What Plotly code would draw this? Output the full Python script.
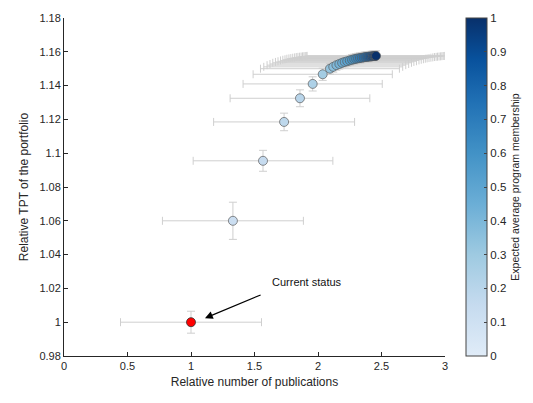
import plotly.graph_objects as go

# Current portfolio (reference point)
current_pubs = [1.0]
current_tpt = [1.0]
current_pubs_err = [0.555]
current_tpt_err = [0.0065]

# Alternative portfolios, ordered by expected average program membership
rel_pubs = [1.33, 1.567, 1.733, 1.858, 1.958, 2.037,
            2.094, 2.12, 2.145, 2.168, 2.19, 2.21, 2.23, 2.25, 2.268, 2.285,
            2.30, 2.315, 2.33, 2.345, 2.36, 2.373, 2.386, 2.398, 2.41, 2.421,
            2.432, 2.442, 2.45, 2.457]
rel_tpt = [1.060, 1.0955, 1.1185, 1.1325, 1.141, 1.1467,
           1.1500, 1.1511, 1.1521, 1.1528, 1.1535, 1.1540, 1.1544, 1.1549, 1.1553, 1.1556,
           1.1559, 1.1561, 1.1563, 1.1565, 1.1567, 1.1569, 1.1570, 1.1571, 1.1572, 1.1573,
           1.1574, 1.1575, 1.1575, 1.1576]
pubs_err = [0.555, 0.55, 0.555, 0.55, 0.548, 0.548,
            0.547, 0.547, 0.546, 0.546, 0.546, 0.545, 0.545, 0.545, 0.545, 0.545,
            0.545, 0.544, 0.544, 0.544, 0.544, 0.544, 0.544, 0.543, 0.543, 0.543,
            0.543, 0.543, 0.543, 0.543]
tpt_err = [0.011, 0.0062, 0.0052, 0.005, 0.0042, 0.0036,
           0.0032, 0.0031, 0.003, 0.003, 0.003, 0.003, 0.003, 0.003, 0.003, 0.003,
           0.003, 0.003, 0.003, 0.003, 0.003, 0.003, 0.003, 0.003, 0.003, 0.003,
           0.003, 0.003, 0.003, 0.003]
membership = [0.12, 0.15, 0.18, 0.20, 0.24, 0.28,
              0.33, 0.36, 0.39, 0.42, 0.45, 0.48, 0.51, 0.54, 0.57, 0.60,
              0.63, 0.66, 0.69, 0.72, 0.75, 0.78, 0.81, 0.84, 0.87, 0.90,
              0.93, 0.96, 0.98, 1.0]

x_ticks = [0, 0.5, 1, 1.5, 2, 2.5, 3]
x_ticktext = ["0", "0.5", "1", "1.5", "2", "2.5", "3"]
y_ticks = [0.98, 1.0, 1.02, 1.04, 1.06, 1.08, 1.1, 1.12, 1.14, 1.16, 1.18]
y_ticktext = ["0.98", "1", "1.02", "1.04", "1.06", "1.08", "1.1", "1.12", "1.14", "1.16", "1.18"]
cb_ticks = [0, 0.1, 0.2, 0.3, 0.4, 0.5, 0.6, 0.7, 0.8, 0.9, 1]
cb_ticktext = ["0", "0.1", "0.2", "0.3", "0.4", "0.5", "0.6", "0.7", "0.8", "0.9", "1"]

blues = [[0.0, "#e0ecf8"], [0.15, "#c6dbef"], [0.3, "#9ecae1"], [0.45, "#6baed6"],
         [0.6, "#4292c6"], [0.75, "#2171b5"], [0.88, "#08519c"], [1.0, "#08306b"]]

AX = "#262626"
FONT = "Liberation Sans, Arial, sans-serif"
ERR = dict(type="data", color="#cfcfcf", thickness=1, width=4)

fig = go.Figure()

fig.add_trace(go.Scatter(
    x=rel_pubs, y=rel_tpt, mode="markers",
    error_x=dict(array=pubs_err, **ERR),
    error_y=dict(array=tpt_err, **ERR),
    marker=dict(size=9, color=membership, colorscale=blues, cmin=0, cmax=1,
                line=dict(color="#5a5a5a", width=0.7),
                colorbar=dict(
                    x=1.055, xanchor="left", xpad=0, y=0.5, yanchor="middle",
                    len=1.0, lenmode="fraction", ypad=0,
                    thickness=21, outlinecolor="#444444", outlinewidth=1,
                    tickvals=cb_ticks, ticktext=cb_ticktext,
                    ticks="inside", ticklen=3, tickcolor="#444444",
                    tickfont=dict(size=11.5, color=AX, family=FONT),
                    title=dict(text="Expected average program membership", side="right",
                               font=dict(size=10.5, color=AX, family=FONT)),
                )),
    showlegend=False,
))

fig.add_trace(go.Scatter(
    x=current_pubs, y=current_tpt, mode="markers",
    error_x=dict(array=current_pubs_err, **ERR),
    error_y=dict(array=current_tpt_err, **ERR),
    marker=dict(size=9, color="#ff0000", line=dict(color="#333333", width=0.8)),
    showlegend=False,
))

fig.add_annotation(
    x=current_pubs[0] + 0.11, y=current_tpt[0] + 0.0024,
    ax=1.56, ay=1.0165, axref="x", ayref="y", xref="x", yref="y",
    showarrow=True, arrowhead=2, arrowsize=1.3, arrowwidth=1.2, arrowcolor="#000000",
    text="",
)
fig.add_annotation(
    x=1.62, y=1.0235, xref="x", yref="y", showarrow=False,
    text="Current status", xanchor="left", yanchor="middle",
    font=dict(size=11, color="#111111", family=FONT),
)

fig.update_xaxes(
    range=[0, 3], tickvals=x_ticks, ticktext=x_ticktext,
    showline=True, linecolor=AX, linewidth=1, mirror=False,
    ticks="inside", ticklen=4, tickcolor=AX, showgrid=False, zeroline=False,
    tickfont=dict(size=11, color=AX, family=FONT),
    title=dict(text="Relative number of publications", standoff=6,
               font=dict(size=12, color=AX, family=FONT)),
)
fig.update_yaxes(
    range=[0.98, 1.18], tickvals=y_ticks, ticktext=y_ticktext,
    showline=True, linecolor=AX, linewidth=1, mirror=False,
    ticks="inside", ticklen=4, tickcolor=AX, showgrid=False, zeroline=False,
    tickfont=dict(size=11, color=AX, family=FONT),
    title=dict(text="Relative TPT of the portfolio", standoff=8,
               font=dict(size=12, color=AX, family=FONT)),
)

fig.update_layout(
    width=533, height=403,
    margin=dict(l=64, r=88, t=16, b=47),
    paper_bgcolor="white", plot_bgcolor="white",
    font=dict(family=FONT),
)

fig.write_html("out.html")
